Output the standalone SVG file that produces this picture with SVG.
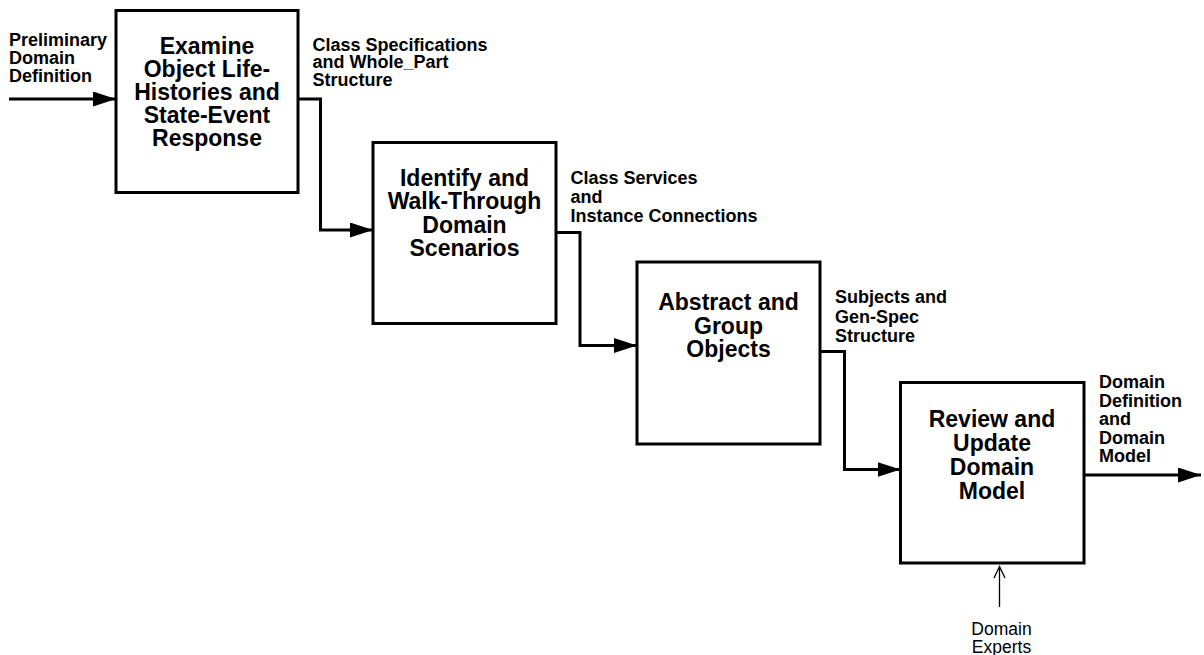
<svg xmlns="http://www.w3.org/2000/svg" width="1204" height="655" viewBox="0 0 1204 655">
<style>
.box{fill:#fff;stroke:#000;stroke-width:3}
.bt{font-family:"Liberation Sans",Arial,sans-serif;font-weight:bold;font-size:23px;text-anchor:middle;fill:#000}
.lb{font-family:"Liberation Sans",Arial,sans-serif;font-weight:bold;font-size:18px;fill:#000}
.rt{font-family:"Liberation Sans",Arial,sans-serif;font-size:17.5px;text-anchor:middle;fill:#000}
.cn{fill:none;stroke:#000;stroke-width:3}
.thin{fill:none;stroke:#000;stroke-width:1.3}
</style>
<defs>
<marker id="ah" markerUnits="userSpaceOnUse" markerWidth="24" markerHeight="16" refX="23" refY="7.5" orient="auto">
<path d="M0,0 L23,7.5 L0,15 z" fill="#000"/>
</marker>
</defs>
<rect width="1204" height="655" fill="#fff"/>
<g id="connectors">
<path class="cn" d="M9,99 H116" marker-end="url(#ah)"/>
<path class="cn" d="M298,99 H320.5 V230 H373" marker-end="url(#ah)"/>
<path class="cn" d="M556,232.5 H580 V345.5 H637" marker-end="url(#ah)"/>
<path class="cn" d="M820,351.5 H844.5 V469.5 H900.5" marker-end="url(#ah)"/>
<path class="cn" d="M1084,475 H1201" marker-end="url(#ah)"/>
<path class="thin" d="M999.5,607 V566.5 M994,578 L999.5,566.5 L1005,578"/>
</g>
<g id="label-in">
<text class="lb" x="9" y="46">Preliminary</text>
<text class="lb" x="9" y="64">Domain</text>
<text class="lb" x="9" y="82">Definition</text>
</g>
<g id="node1">
<rect class="box" x="116" y="10.5" width="182" height="182"/>
<text class="bt" x="207" y="54">Examine</text>
<text class="bt" x="207" y="77">Object Life-</text>
<text class="bt" x="207" y="100">Histories and</text>
<text class="bt" x="207" y="123">State-Event</text>
<text class="bt" x="207" y="146">Response</text>
</g>
<g id="label1">
<text class="lb" x="312.5" y="50.5">Class Specifications</text>
<text class="lb" x="312.5" y="68">and Whole_Part</text>
<text class="lb" x="312.5" y="85.5">Structure</text>
</g>
<g id="node2">
<rect class="box" x="373" y="142.5" width="183" height="181"/>
<text class="bt" x="464.5" y="185.5">Identify and</text>
<text class="bt" x="464.5" y="209">Walk-Through</text>
<text class="bt" x="464.5" y="232.5">Domain</text>
<text class="bt" x="464.5" y="256">Scenarios</text>
</g>
<g id="label2">
<text class="lb" x="570.5" y="184">Class Services</text>
<text class="lb" x="570.5" y="203">and</text>
<text class="lb" x="570.5" y="222">Instance Connections</text>
</g>
<g id="node3">
<rect class="box" x="637" y="262" width="183" height="182"/>
<text class="bt" x="728.5" y="310">Abstract and</text>
<text class="bt" x="728.5" y="333.5">Group</text>
<text class="bt" x="728.5" y="356.5">Objects</text>
</g>
<g id="label3">
<text class="lb" x="835" y="303">Subjects and</text>
<text class="lb" x="835" y="322.5">Gen-Spec</text>
<text class="lb" x="835" y="341.5">Structure</text>
</g>
<g id="node4">
<rect class="box" x="900.5" y="382.5" width="183.5" height="180.5"/>
<text class="bt" x="992" y="427">Review and</text>
<text class="bt" x="992" y="451">Update</text>
<text class="bt" x="992" y="475">Domain</text>
<text class="bt" x="992" y="498.5">Model</text>
</g>
<g id="label4">
<text class="lb" x="1099" y="388">Domain</text>
<text class="lb" x="1099" y="406.5">Definition</text>
<text class="lb" x="1099" y="425">and</text>
<text class="lb" x="1099" y="443.5">Domain</text>
<text class="lb" x="1099" y="462">Model</text>
</g>
<g id="label-experts">
<text class="rt" x="1001.5" y="635">Domain</text>
<text class="rt" x="1001.5" y="653">Experts</text>
</g>
</svg>
